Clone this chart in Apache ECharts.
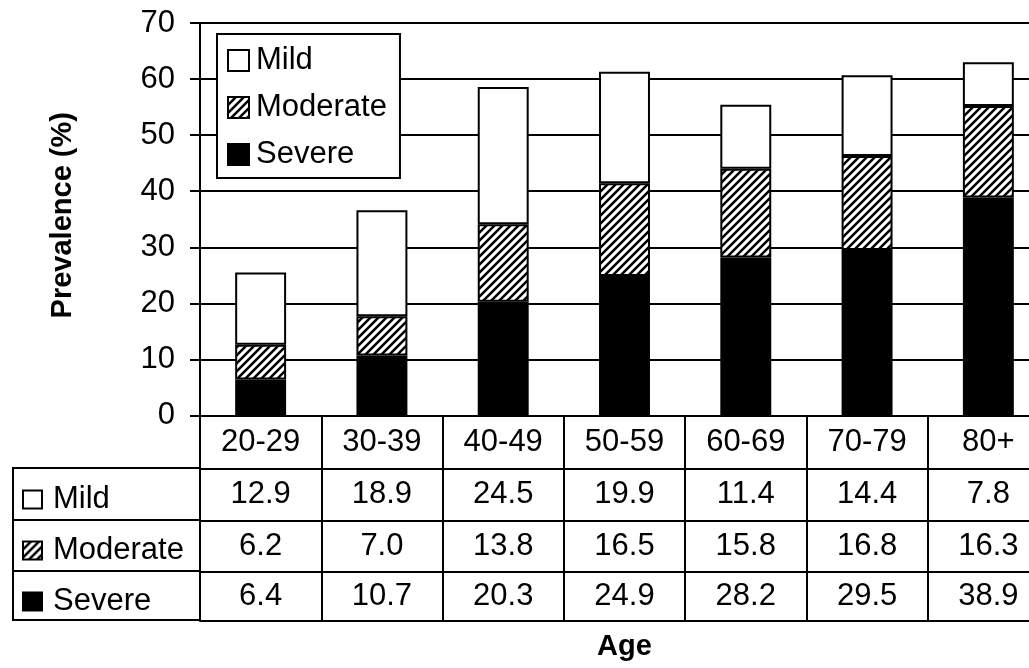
<!DOCTYPE html>
<html>
<head>
<meta charset="utf-8">
<script src="https://cdn.jsdelivr.net/npm/echarts@6/dist/echarts.min.js"></script>
<style>html,body{margin:0;padding:0;background:#fff}#c{width:1029px;height:668px}</style>
</head>
<body>
<div id="c"></div>
<script>
const categories = ['20-29','30-39','40-49','50-59','60-69','70-79','80+'];
const mild     = [12.9, 18.9, 24.5, 19.9, 11.4, 14.4, 7.8];
const moderate = [6.2, 7.0, 13.8, 16.5, 15.8, 16.8, 16.3];
const severe   = [6.4, 10.7, 20.3, 24.9, 28.2, 29.5, 38.9];
const seriesNames = ['Mild','Moderate','Severe'];
const yTicks = {min: 0, max: 70, interval: 10};

function makeHatch(){
  const c = document.createElement('canvas'); c.width = 8; c.height = 8;
  const g = c.getContext('2d');
  g.fillStyle = '#fff'; g.fillRect(0,0,8,8);
  g.strokeStyle = '#000'; g.lineWidth = 2.5; g.lineCap = 'square';
  g.beginPath();
  g.moveTo(-2,10); g.lineTo(10,-2);
  g.moveTo(-2,2); g.lineTo(2,-2);
  g.moveTo(6,10); g.lineTo(10,6);
  g.stroke();
  return c;
}
const hatch = {image: makeHatch(), repeat: 'repeat'};

const FONT = 'Liberation Sans, Arial, sans-serif';
const FS = 31;
const BLK = '#000';
const line2 = {color: BLK, width: 2};

const chart = echarts.init(document.getElementById('c'), null, {renderer: 'canvas'});

function rowAxis(offset, values, margin){
  return {
    type: 'category', data: categories, position: 'bottom', offset: offset, gridIndex: 0,
    axisLine: {show: true, lineStyle: line2},
    axisTick: {show: false},
    axisLabel: values ? {
      show: true, interval: 0, margin: margin, verticalAlign: 'middle',
      fontSize: FS, fontFamily: FONT, color: BLK,
      formatter: (v, i) => values[i].toFixed(1)
    } : {show: false},
    splitLine: {show: false}
  };
}

const bottomAxis = rowAxis(205, null, 0);
bottomAxis.name = 'Age';
bottomAxis.nameLocation = 'middle';
bottomAxis.nameGap = 12;
bottomAxis.nameTextStyle = {fontSize: 29, fontWeight: 'bold', fontFamily: FONT, color: BLK};

const option = {
  backgroundColor: '#fff',
  animation: false,
  grid: {left: 200, top: 23, width: 849, height: 392.5, outerBoundsMode: 'none', containLabel: false},
  legend: [{
    data: seriesNames,
    orient: 'vertical', left: 217, top: 34,
    backgroundColor: '#fff', borderColor: BLK, borderWidth: 2,
    padding: [11, 13, 8, 10],
    itemWidth: 21, itemHeight: 21, itemGap: 16,
    icon: 'rect', selectedMode: false,
    textStyle: {fontSize: FS, fontFamily: FONT, color: BLK, lineHeight: 31, padding: [0,0,0,2]}
  }, {
    data: seriesNames,
    orient: 'vertical', left: 17, top: 479,
    itemWidth: 19, itemHeight: 18, itemGap: 20,
    icon: 'rect', selectedMode: false,
    textStyle: {fontSize: FS, fontFamily: FONT, color: BLK, lineHeight: 31, padding: [0,0,0,6]}
  }],
  xAxis: [
    {
      type: 'category', data: categories, position: 'bottom', gridIndex: 0,
      axisLine: {show: true, lineStyle: line2},
      axisTick: {show: true, length: 205, interval: 0, alignWithLabel: false, lineStyle: line2},
      axisLabel: {interval: 0, margin: 26.5, verticalAlign: 'middle', fontSize: FS, fontFamily: FONT, color: BLK},
      splitLine: {show: false}
    },
    rowAxis(53, mild, 26),
    rowAxis(105, moderate, 25.5),
    rowAxis(156, severe, 24.5),
    bottomAxis
  ],
  yAxis: {
    type: 'value', min: yTicks.min, max: yTicks.max, interval: yTicks.interval,
    name: 'Prevalence (%)', nameLocation: 'middle', nameGap: 123,
    nameTextStyle: {fontSize: 29, fontWeight: 'bold', fontFamily: FONT, color: BLK, padding: [0,0,0,8]},
    axisLine: {show: true, lineStyle: line2},
    axisTick: {show: true, length: 10, lineStyle: line2},
    axisLabel: {margin: 25, fontSize: FS, fontFamily: FONT, color: BLK},
    splitLine: {show: true, lineStyle: line2}
  },
  series: [
    {name: 'Severe', type: 'bar', stack: 'all', data: severe, barWidth: '42%',
     itemStyle: {color: BLK, borderColor: BLK, borderWidth: 2}},
    {name: 'Moderate', type: 'bar', stack: 'all', data: moderate, barWidth: '42%',
     itemStyle: {color: hatch, borderColor: BLK, borderWidth: 2}},
    {name: 'Mild', type: 'bar', stack: 'all', data: mild, barWidth: '42%',
     itemStyle: {color: '#fff', borderColor: BLK, borderWidth: 2}}
  ],
  graphic: [
    {type: 'rect', shape: {x: 13, y: 468, width: 187, height: 152}, z: -1,
     style: {fill: '#fff', stroke: BLK, lineWidth: 2}},
    {type: 'line', shape: {x1: 13, y1: 520, x2: 200, y2: 520}, style: {stroke: BLK, lineWidth: 2}},
    {type: 'line', shape: {x1: 13, y1: 571, x2: 200, y2: 571}, style: {stroke: BLK, lineWidth: 2}}
  ]
};
chart.setOption(option);
</script>
</body>
</html>
